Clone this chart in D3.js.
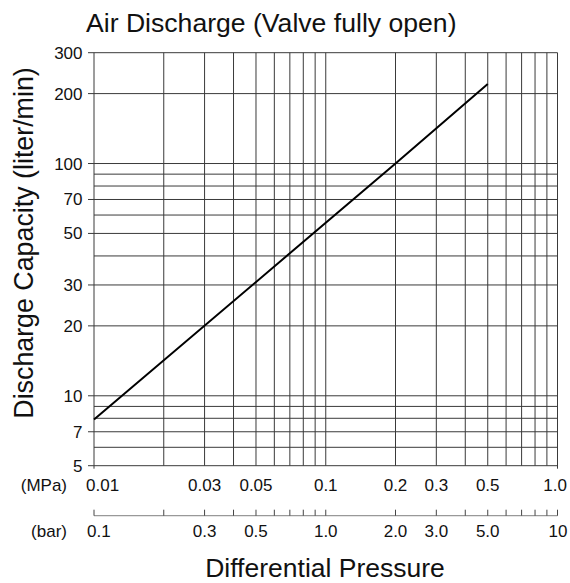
<!DOCTYPE html>
<html>
<head>
<meta charset="utf-8">
<script src="https://cdn.jsdelivr.net/npm/d3@7"></script>
<style>
  html, body { margin: 0; padding: 0; background: #fff; }
  svg { display: block; font-family: "Liberation Sans", Arial, Helvetica, sans-serif; }
</style>
</head>
<body>
<svg id="chart" width="570" height="583"></svg>
<script>
// Pressure grid (MPa) and capacity grid (liter/min)
const mpaGrid = [0.01, 0.02, 0.03, 0.04, 0.05, 0.06, 0.07, 0.08, 0.09,
                 0.1, 0.2, 0.3, 0.4, 0.5, 0.6, 0.7, 0.8, 0.9, 1.0];
const capGrid = [5, 6, 7, 8, 9, 10, 20, 30, 40, 50, 60, 70, 80, 90, 100, 200, 300];

// Labelled ticks
const mpaTicks = [0.01, 0.03, 0.05, 0.1, 0.2, 0.3, 0.5, 1.0];
const mpaTickLabels = ["0.01", "0.03", "0.05", "0.1", "0.2", "0.3", "0.5", "1.0"];
const barGrid = [0.1, 0.2, 0.3, 0.4, 0.5, 0.6, 0.7, 0.8, 0.9,
                 1, 2, 3, 4, 5, 6, 7, 8, 9, 10];
const barTicks = [0.1, 0.3, 0.5, 1.0, 2.0, 3.0, 5.0, 10];
const barTickLabels = ["0.1", "0.3", "0.5", "1.0", "2.0", "3.0", "5.0", "10"];
const capTicks = [5, 7, 10, 20, 30, 50, 70, 100, 200, 300];
const capTickLabels = ["5", "7", "10", "20", "30", "50", "70", "100", "200", "300"];

// Discharge curve, valve fully open
const pressureMPa = [0.01, 0.2, 0.5];
const dischargeLpm = [7.9, 100, 220];

const svg = d3.select("#chart");
const plotLeft = 94, plotRight = 557.5, plotTop = 52.7, plotBottom = 465.7;

const x = d3.scaleLog().domain([0.01, 1]).range([plotLeft, plotRight]);
const xBar = d3.scaleLog().domain([0.1, 10]).range([plotLeft, plotRight]);
const y = d3.scaleLog().domain([5, 300]).range([plotBottom, plotTop]);

const gridColor = "#3a3a3a";
const tickFont = 17;

// Vertical grid lines
svg.append("g").selectAll("line").data(mpaGrid).join("line")
  .attr("x1", d => x(d)).attr("x2", d => x(d))
  .attr("y1", plotTop)
  .attr("y2", (d, i) => (i === 0 || i === mpaGrid.length - 1) ? plotBottom + 3 : plotBottom)
  .attr("stroke", gridColor).attr("stroke-width", 1);

// Horizontal grid lines; labelled values stick out as ticks
svg.append("g").selectAll("line").data(capGrid).join("line")
  .attr("x1", d => capTicks.includes(d) ? plotLeft - 6 : plotLeft)
  .attr("x2", plotRight)
  .attr("y1", d => y(d)).attr("y2", d => y(d))
  .attr("stroke", gridColor).attr("stroke-width", 1);

// Capacity labels
svg.append("g").selectAll("text").data(capTicks).join("text")
  .attr("x", plotLeft - 11.5).attr("y", d => y(d) + 6)
  .attr("text-anchor", "end")
  .attr("font-size", tickFont).attr("fill", "#111")
  .text((d, i) => capTickLabels[i]);

// Label placement: end labels sit inside the grid edges
function anchorFor(i, n) { return i === 0 ? "start" : (i === n - 1 ? "end" : "middle"); }
function shiftFor(i, n) { return i === 0 ? -8 : (i === n - 1 ? 9.5 : 0); }

// MPa labels
svg.append("text").attr("x", 67).attr("y", 490.5).attr("text-anchor", "end")
  .attr("font-size", tickFont).attr("fill", "#111").text("(MPa)");
svg.append("g").selectAll("text").data(mpaTicks).join("text")
  .attr("x", (d, i) => x(d) + shiftFor(i, mpaTicks.length))
  .attr("y", 490.5)
  .attr("text-anchor", (d, i) => anchorFor(i, mpaTicks.length))
  .attr("font-size", tickFont).attr("fill", "#111")
  .text((d, i) => mpaTickLabels[i]);

// bar axis
const barAxisY = 515.7;
svg.append("line").attr("x1", plotLeft).attr("x2", plotRight)
  .attr("y1", barAxisY).attr("y2", barAxisY)
  .attr("stroke", "#999").attr("stroke-width", 1.2);
svg.append("g").selectAll("line").data(barGrid).join("line")
  .attr("x1", d => xBar(d)).attr("x2", d => xBar(d))
  .attr("y1", barAxisY - 6).attr("y2", barAxisY)
  .attr("stroke", "#444").attr("stroke-width", 1);
svg.append("text").attr("x", 67).attr("y", 536.5).attr("text-anchor", "end")
  .attr("font-size", tickFont).attr("fill", "#111").text("(bar)");
svg.append("g").selectAll("text").data(barTicks).join("text")
  .attr("x", (d, i) => xBar(d) + (i === 0 ? -7 : i === barTicks.length - 1 ? 10 : 0))
  .attr("y", 536.5)
  .attr("text-anchor", (d, i) => anchorFor(i, barTicks.length))
  .attr("font-size", tickFont).attr("fill", "#111")
  .text((d, i) => barTickLabels[i]);

// Discharge line
const line = d3.line().x((d, i) => x(pressureMPa[i])).y(d => y(d));
svg.append("path").datum(dischargeLpm)
  .attr("d", line)
  .attr("fill", "none").attr("stroke", "#000").attr("stroke-width", 2);

// Titles
svg.append("text").attr("x", 86).attr("y", 32)
  .attr("font-size", 26.6).attr("fill", "#111")
  .text("Air Discharge (Valve fully open)");
svg.append("text").attr("x", 325).attr("y", 576.5).attr("text-anchor", "middle")
  .attr("font-size", 26.5).attr("fill", "#111")
  .text("Differential Pressure");
svg.append("text")
  .attr("transform", "translate(33,243) rotate(-90)")
  .attr("text-anchor", "middle")
  .attr("font-size", 26.8).attr("fill", "#111")
  .text("Discharge Capacity (liter/min)");
</script>
</body>
</html>
